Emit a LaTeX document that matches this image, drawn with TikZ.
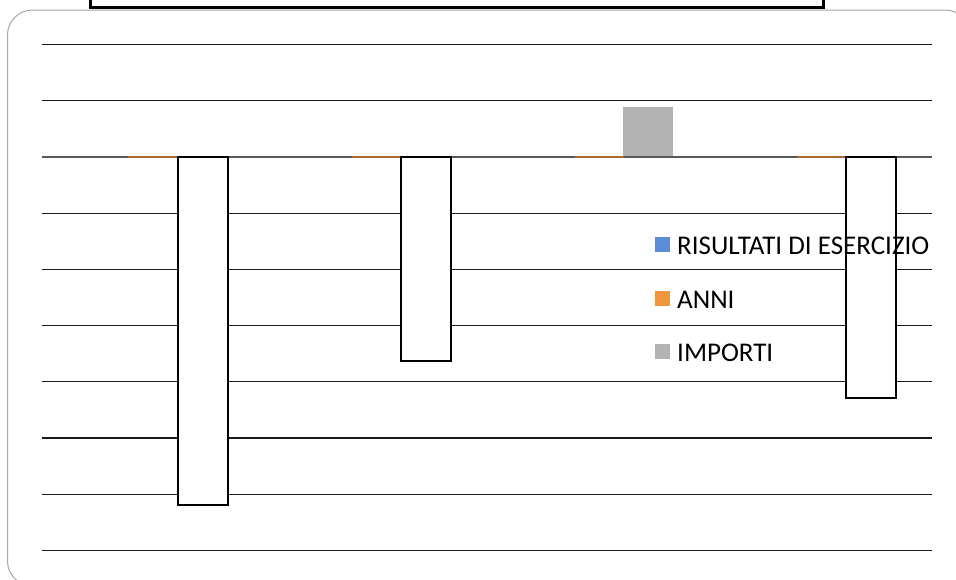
\documentclass[tikz,border=0pt]{standalone}
\usepackage{fontspec}
\setmainfont{Carlito}
\definecolor{frame}{HTML}{A6A6A6}
\definecolor{gridc}{HTML}{1A1A1A}
\definecolor{axisc}{HTML}{595959}
\definecolor{barblue}{HTML}{5B8ED6}
\definecolor{barorange}{HTML}{F0963F}
\definecolor{bargray}{HTML}{B3B3B3}
\begin{document}
\begin{tikzpicture}[x=1pt,y=-1pt,
  gridline/.style={draw=gridc,line width=1.2pt},
  axisline/.style={draw=axisc,line width=1.5pt},
  orangeseg/.style={draw=barorange!70!black,line width=1.5pt},
  barbox/.style={draw=black,fill=white,line width=1.6pt},
  graybar/.style={fill=bargray},
  legsq/.style={minimum width=15pt,minimum height=15pt,inner sep=0pt},
  legtext/.style={anchor=base west,inner sep=0pt,font=\fontsize{27}{29}\selectfont}]
\useasboundingbox (0,0) rectangle (956,579);
\fill[white] (0,0) rectangle (956,579);
% outer rounded frame
\draw[frame,line width=1pt,rounded corners=25pt] (7.5,10) rectangle (970,586);
% title box cut at top
\draw[black,line width=3pt] (90,-10) rectangle (823,7.5);
% grid lines
\foreach \k in {0,1,3,4,5,6,7,8,9}{
  \draw[gridline] (42,{44.5+56.2*\k}) -- (932,{44.5+56.2*\k});
}
\draw[axisline] (42,156.9) -- (932,156.9);
\foreach \xa in {128,352,575,797}{
  \draw[orangeseg] (\xa,156.9) -- ({\xa+49},156.9);
}
% bars
\draw[barbox] (178,156.9) rectangle (228,505) coordinate (b1);
\draw[barbox] (401,156.9) rectangle (451,361) coordinate (b2);
\fill[graybar] (623,107) rectangle (673,156) coordinate (b3);
\draw[barbox] (846,156.9) rectangle (896,398) coordinate (b4);
% legend
\node[legsq,fill=barblue] (s1) at (662.5,244.5) {};
\node[legsq,fill=barorange] (s2) at (662.5,298.5) {};
\node[legsq,fill=bargray] (s3) at (662.5,351.5) {};
\node[legtext] (t1) at (677,254.5) {RISULTATI DI ESERCIZIO};
\node[legtext] (t2) at (677,308) {ANNI};
\node[legtext] (t3) at (677,361.5) {IMPORTI};
\end{tikzpicture}
\end{document}
